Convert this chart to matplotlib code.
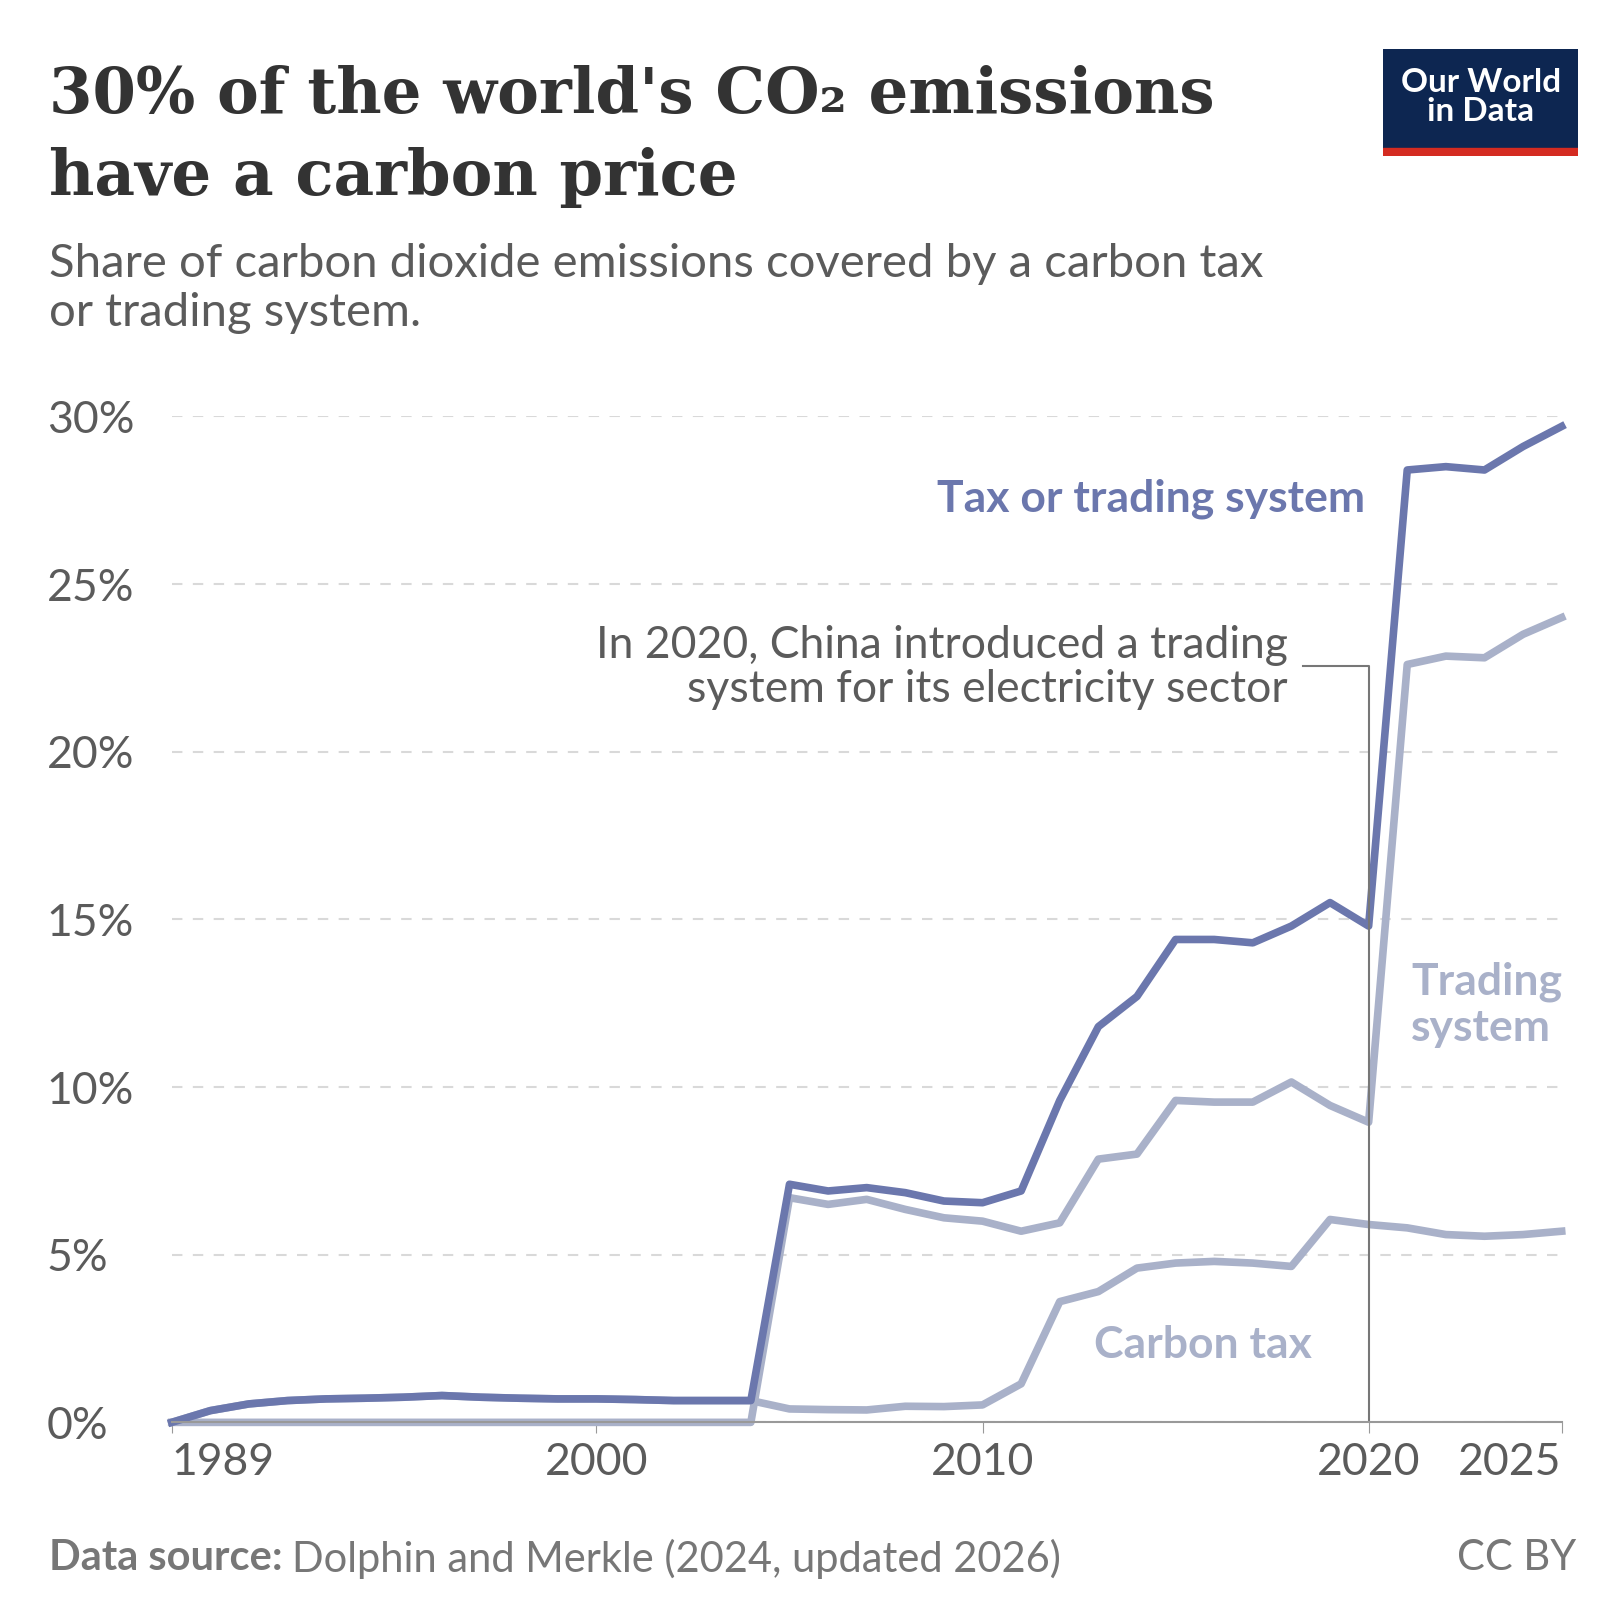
import matplotlib.pyplot as plt

years = list(range(1989, 2026))
total = [0, 0.35, 0.55, 0.65, 0.7, 0.72, 0.75, 0.8, 0.75, 0.72, 0.7, 0.7, 0.68, 0.65, 0.65, 0.65,
         7.1, 6.9, 7.0, 6.85, 6.6, 6.55, 6.9, 9.6, 11.8, 12.7, 14.4, 14.4, 14.3, 14.8, 15.5, 14.8,
         28.4, 28.5, 28.4, 29.1, 29.7]
trading = [0] * 16 + [6.7, 6.5, 6.65, 6.35, 6.1, 6.0, 5.7, 5.95, 7.85, 8.0, 9.6, 9.55, 9.55,
                      10.15, 9.45, 8.95, 22.6, 22.85, 22.8, 23.5, 24.0]
carbon_tax = total[:16] + [0.4, 0.38, 0.37, 0.48, 0.47, 0.52, 1.15, 3.6, 3.9, 4.6, 4.75, 4.8,
                           4.75, 4.65, 6.05, 5.9, 5.8, 5.6, 5.55, 5.6, 5.7]
yticks = [0, 5, 10, 15, 20, 25, 30]
xticks = [1989, 2000, 2010, 2020, 2025]

dark = '#6b77ad'
light = '#a9b1c9'
grey = '#5b5b5b'
plt.rcParams['font.family'] = ['Lato', 'DejaVu Sans']

fig = plt.figure(figsize=(16.2, 16.2), dpi=100)
ax = fig.add_axes([0.106, 0.122, 0.858, 0.621])

ax.plot(years, trading, color=light, lw=5.5, solid_joinstyle='round', clip_on=False)
ax.plot(years, carbon_tax, color=light, lw=5.5, solid_joinstyle='round', clip_on=False)
ax.plot(years, total, color=dark, lw=5.5, solid_joinstyle='round', clip_on=False)

ax.set_xlim(1989, 2025)
ax.set_ylim(0, 30)
ax.set_yticks(yticks)
ax.set_yticklabels([f'{v}%' for v in yticks], fontsize=32, color=grey)
ax.set_xticks(xticks)
ax.set_xticklabels([str(v) for v in xticks], fontsize=32, color=grey)
ax.grid(axis='y', ls=(0, (5, 5)), color='#d9d9d9', lw=1.5)
for s in ['top', 'right', 'left']:
    ax.spines[s].set_visible(False)
ax.spines['bottom'].set_color('#999999')
ax.spines['bottom'].set_linewidth(1.5)
ax.tick_params(axis='y', length=0, pad=8)
ax.tick_params(axis='x', length=8, color='#999999', pad=6)
for lab in ax.get_yticklabels():
    lab.set_horizontalalignment('left')
    lab.set_x(-0.082)
xl = ax.get_xticklabels()
xl[0].set_horizontalalignment('left')
xl[0].set_x(1988.7)
xl[-1].set_horizontalalignment('right')
xl[-1].set_x(2025.1)

ax.text(2019.9, 27.55, 'Tax or trading system', color=dark, fontsize=32, fontweight='bold', ha='right', va='center')
ax.text(2021.1, 12.45, 'Trading\nsystem', color=light, fontsize=32, fontweight='bold', ha='left', va='center', linespacing=1.2)
ax.text(2015.7, 2.3, 'Carbon tax', color=light, fontsize=32, fontweight='bold', ha='center', va='center')
ax.text(2017.9, 22.5, 'In 2020, China introduced a trading\nsystem for its electricity sector',
        color=grey, fontsize=32, ha='right', va='center', linespacing=1.1)
ax.plot([2018.3, 2020, 2020], [22.55, 22.55, 0], color='#777777', lw=1.5)

fig.text(0.03, 0.96, "30% of the world's CO₂ emissions\nhave a carbon price", fontsize=45,
         family=['DejaVu Serif'], fontweight='bold', color='#333333', va='top', linespacing=1.45)
fig.text(0.03, 0.85, 'Share of carbon dioxide emissions covered by a carbon tax\nor trading system.',
         fontsize=34, color=grey, va='top', linespacing=1.2)
src = fig.text(0.03, 0.038, 'Data source:', fontsize=30, color='#777777', fontweight='bold', va='center')
fig.canvas.draw()
bb = src.get_window_extent().transformed(fig.transFigure.inverted())
fig.text(bb.x1 + 0.006, 0.038, 'Dolphin and Merkle (2024, updated 2026)', fontsize=30, color='#777777', va='center')
fig.text(0.973, 0.038, 'CC BY', fontsize=30, color='#777777', va='center', ha='right')

logo = fig.add_axes([0.854, 0.904, 0.12, 0.066])
logo.set_xlim(0, 1)
logo.set_ylim(0, 1)
logo.axis('off')
logo.add_patch(plt.Rectangle((0, 0.07), 1, 0.93, color='#0d2651'))
logo.add_patch(plt.Rectangle((0, 0), 1, 0.07, color='#d42b21'))
logo.text(0.5, 0.55, 'Our World\nin Data', color='white', fontsize=24, fontweight='bold',
          ha='center', va='center', linespacing=1.0)

fig.savefig('out.png')
